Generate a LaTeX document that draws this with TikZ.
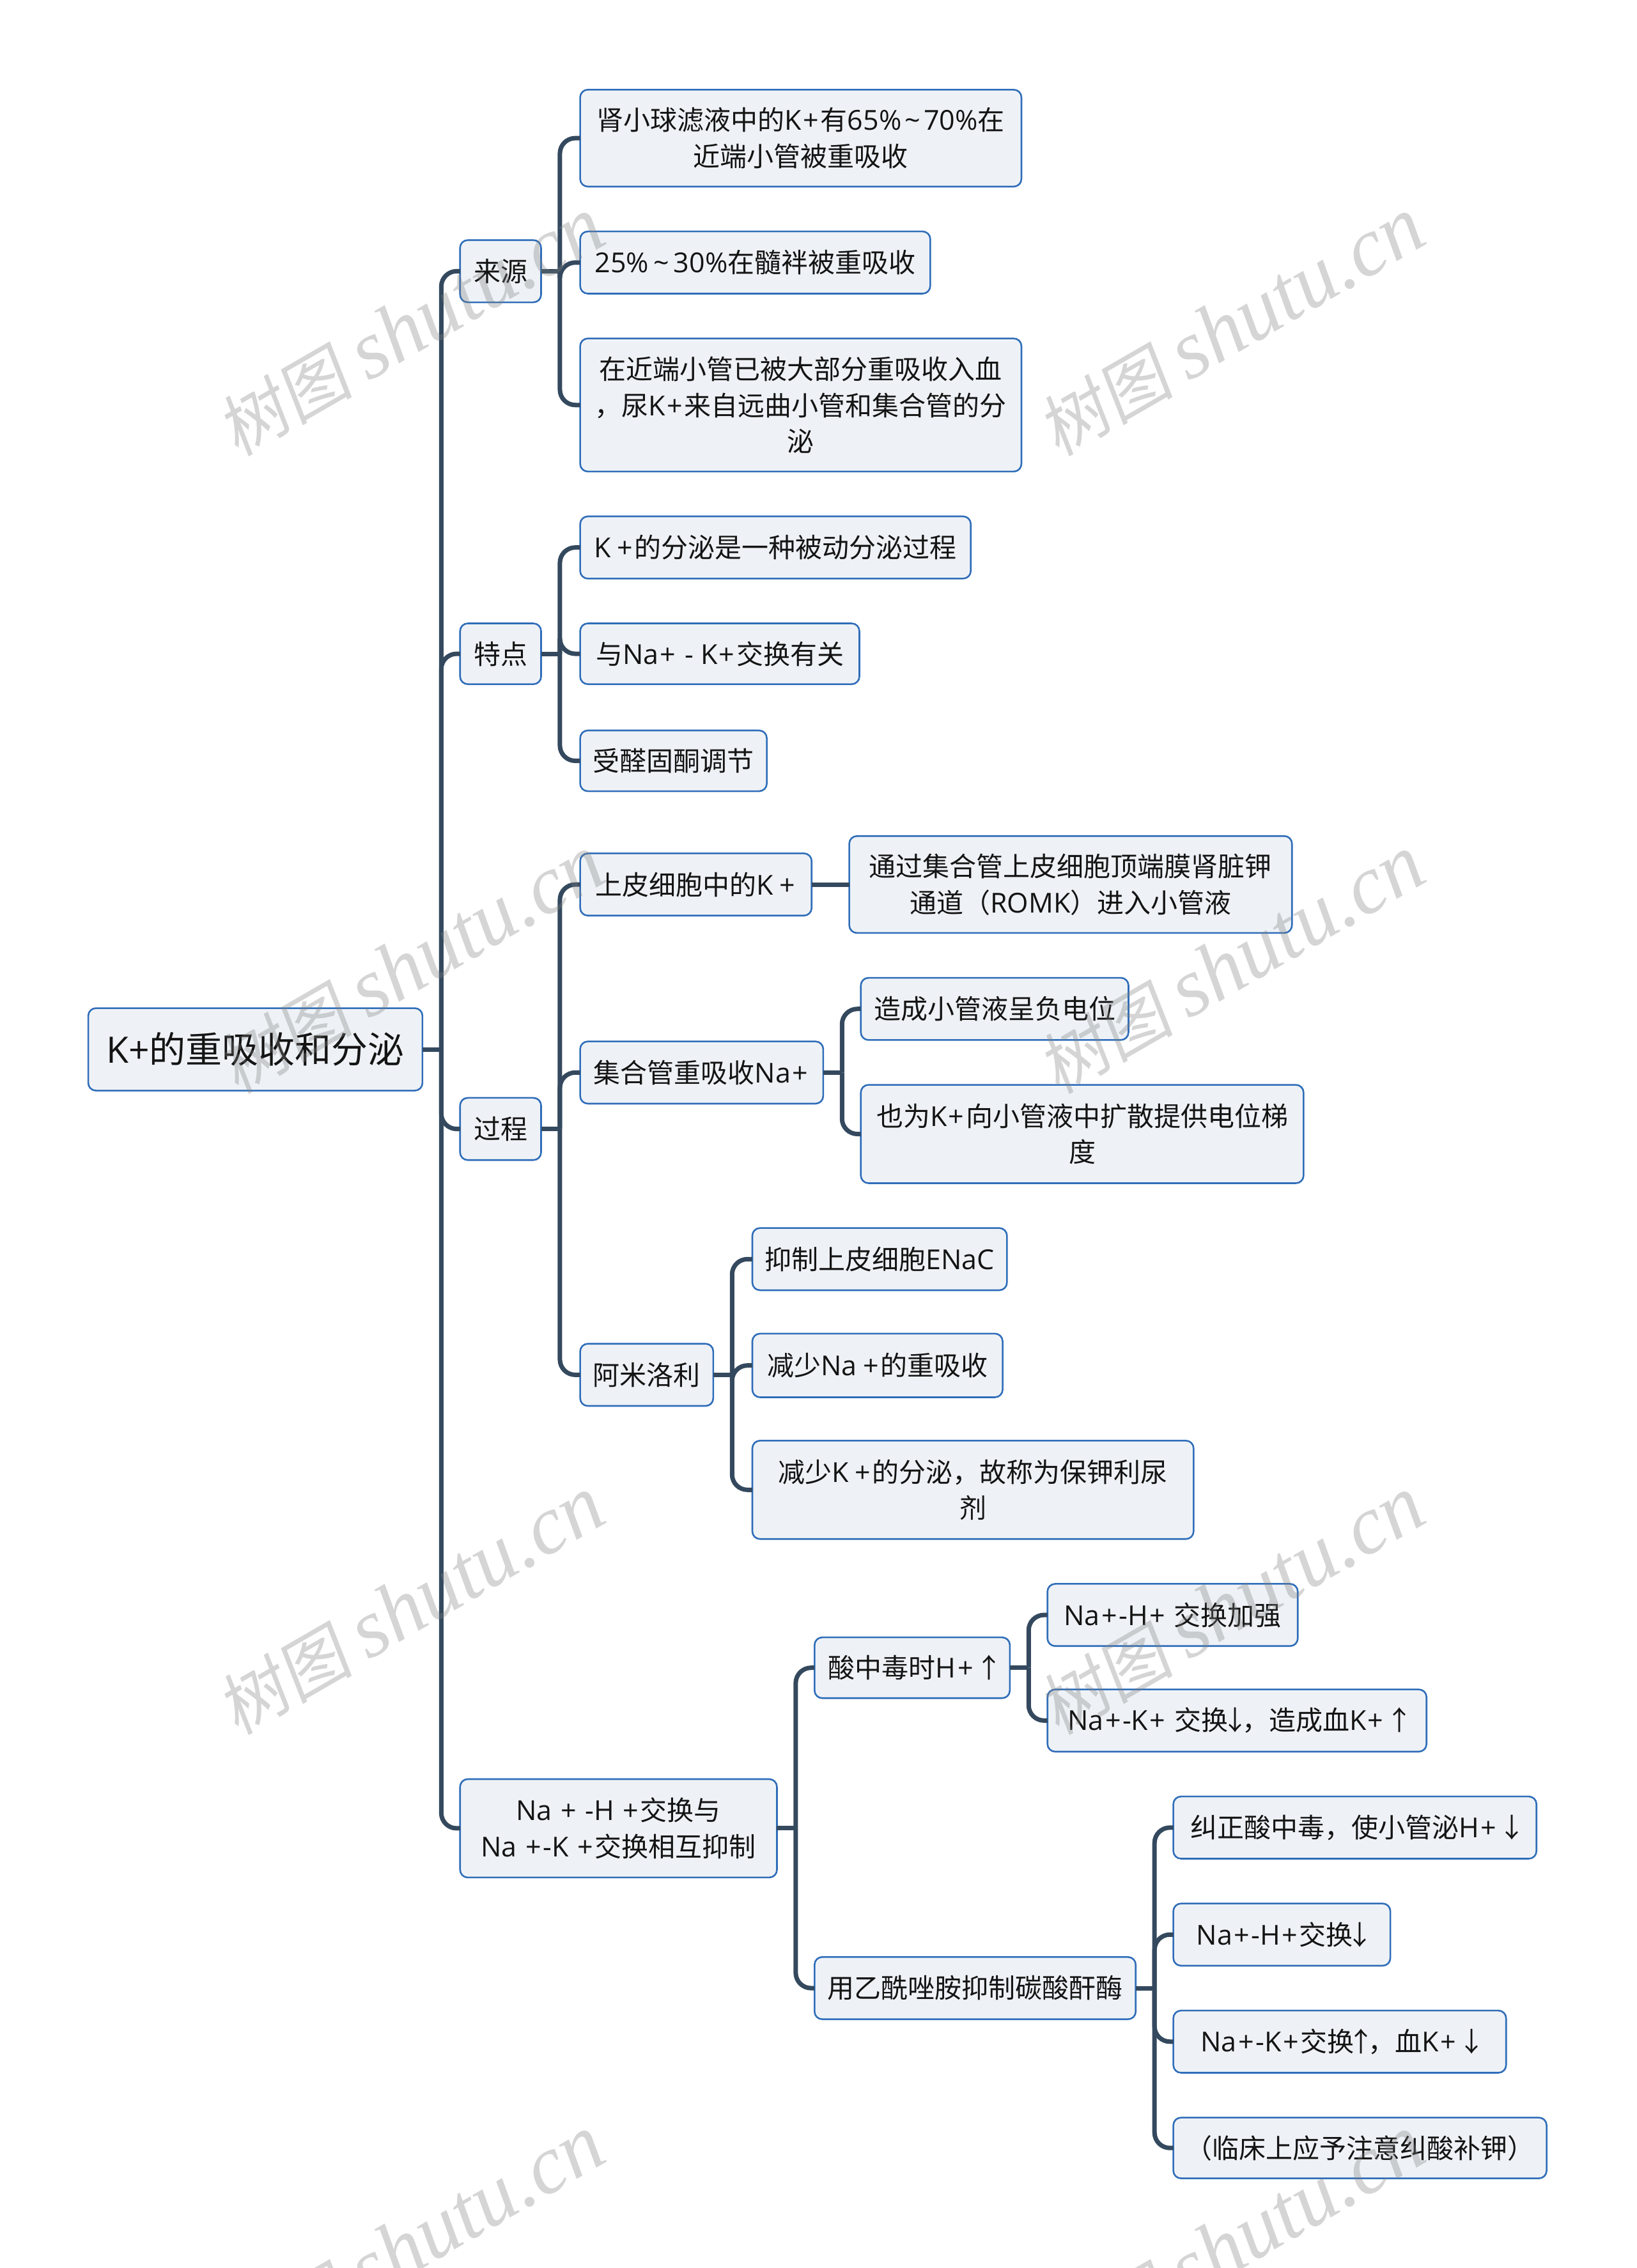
\documentclass[tikz,border=0pt]{standalone}
\usepackage{fontspec}
\setmainfont{Open Sans}
\newfontfamily\cjk{Noto Sans CJK SC}
\newfontfamily\wmcjk[FakeSlant=0.15]{Noto Sans CJK SC}
\newfontfamily\wmlat{Liberation Serif}[ItalicFont=* Italic]
\newcommand{\C}[1]{{\cjk\fontsize{42}{56.5}\selectfont #1}}
\newcommand{\pl}{\kern2.5pt+\kern2.5pt}
\newcommand{\ua}{\makebox[22pt]{\C{↑}}}
\newcommand{\da}{\makebox[22pt]{\C{↓}}}
\definecolor{boxfill}{HTML}{EEF2F6}
\definecolor{boxline}{HTML}{2F6DB9}
\definecolor{connline}{HTML}{34495E}
\definecolor{wmgray}{HTML}{808080}
\tikzset{
  every node/.style={inner sep=0pt,outer sep=0pt},
  box/.style={draw=boxline,fill=boxfill,line width=2.6pt,rounded corners=12pt,align=center,text=black!92,font=\fontsize{43}{56.5}\selectfont},
  rootbox/.style={box,font=\fontsize{57}{70}\selectfont},
  conn/.style={draw=connline,line width=7pt,rounded corners=24pt},
  stub/.style={draw=connline,line width=7pt},
  wm/.style={text=wmgray,opacity=0.33,rotate=30}
}
\newcommand{\bx}[7][box]{\node[#1,minimum width={(#5-#3)*2.2634pt},minimum height={(#6-#4)*2.2634pt}] (#2) at ({(#3+#5)/2},{(#4+#6)/2}) {#7};}
\newcommand{\wmk}[3]{\node[wm] (#1) at (#2,#3) {{\fontsize{106}{106}\selectfont\wmcjk 树图}\hspace{24pt}{\fontsize{130}{130}\selectfont\wmlat\itshape shutu.cn}};}
% parent, horizontal offset of the trunk, list of children
\newcommand{\link}[3]{\draw[stub] (#1.east) -- ++(#2,0) coordinate (t#1);
  \foreach \k in {#3} {\draw[conn] (t#1) |- (\k.west);}}
\begin{document}
\begin{tikzpicture}[x=2.2634pt,y=-2.2634pt]
\useasboundingbox (0,0) rectangle (1131.05,1568);
\clip (0,0) rectangle (1131.05,1568);
\bx[rootbox]{root}{61}{697}{292}{754}{K+{\cjk 的重吸收和分泌}}
\bx{ly}{318}{166}{374}{209}{\C{来源}}
\bx{aa}{401}{62}{706}{129}{\C{肾小球滤液中的}K\pl\C{有}65\%\kern5pt\textasciitilde\kern5pt70\%\C{在}\\\C{近端小管被重吸收}}
\bx{ab}{401}{160}{643}{203}{25\%\,\textasciitilde\,30\%\C{在髓袢被重吸收}}
\bx{ac}{401}{234}{706}{326}{\C{在近端小管已被大部分重吸收入血}\\\C{，尿}K\pl\C{来自远曲小管和集合管的分}\\\C{泌}}
\bx{td}{318}{431}{374}{473}{\C{特点}}
\bx{ba}{401}{357}{671}{400}{K\,\pl\C{的分泌是一种被动分泌过程}}
\bx{bb}{401}{431}{594}{473}{\C{与}Na\pl\ - K\pl\C{交换有关}}
\bx{bc}{401}{505}{530}{547}{\C{受醛固酮调节}}
\bx{gc}{318}{759}{374}{802}{\C{过程}}
\bx{ca}{401}{590}{561}{633}{\C{上皮细胞中的}K\,\pl}
\bx{caa}{587}{578}{893}{645}{\C{通过集合管上皮细胞顶端膜肾脏钾}\\\C{通道（}ROMK\C{）进入小管液}}
\bx{cb}{401}{720}{569}{763}{\C{集合管重吸收}Na\pl}
\bx{cba}{595}{676}{780}{719}{\C{造成小管液呈负电位}}
\bx{cbb}{595}{750}{901}{818}{\C{也为}K\pl\C{向小管液中扩散提供电位梯}\\\C{度}}
\bx{cc}{401}{929}{493}{972}{\C{阿米洛利}}
\bx{cca}{520}{849}{696}{892}{\C{抑制上皮细胞}ENaC}
\bx{ccb}{520}{922}{693}{966}{\C{减少}Na\,\pl\C{的重吸收}}
\bx{ccc}{520}{996}{825}{1064}{\C{减少}K\,\pl\C{的分泌，故称为保钾利尿}\\\C{剂}}
\bx{na}{318}{1230}{537}{1298}{Na \pl\ -H \pl\C{交换与}\\Na \pl-K \pl\C{交换相互抑制}}
\bx{da}{563}{1132}{698}{1174}{\C{酸中毒时}H\pl\ \ua}
\bx{daa}{724}{1095}{897}{1138}{Na\pl-H\pl\ \C{交换加强}}
\bx{dab}{724}{1168}{986}{1211}{Na\pl-K\pl\ \C{交换}\da\C{，造成血}K\pl\ \ua}
\bx{db}{563}{1353}{785}{1396}{\C{用乙酰唑胺抑制碳酸酐酶}}
\bx{dba}{811}{1242}{1062}{1285}{\C{纠正酸中毒，使小管泌}H\pl\ \da}
\bx{dbb}{811}{1316}{961}{1359}{Na\pl-H\pl\C{交换}\da}
\bx{dbc}{811}{1390}{1041}{1433}{Na\pl-K\pl\C{交换}\ua\C{，血}K\pl\ \da}
\bx{dbd}{811}{1464}{1069}{1506}{\C{（临床上应予注意纠酸补钾）}}
\link{root}{13}{ly,td,gc,na}
\link{ly}{13}{aa,ab,ac}
\link{td}{13}{ba,bb,bc}
\link{gc}{13}{ca,cb,cc}
\draw[stub] (ca.east) -- (caa.west);
\link{cb}{13}{cba,cbb}
\link{cc}{13}{cca,ccb,ccc}
\link{na}{13}{da,db}
\link{da}{13}{daa,dab}
\link{db}{13}{dba,dbb,dbc,dbd}
\wmk{w1}{284}{226}
\wmk{w2}{851}{226}
\wmk{w3}{284}{667}
\wmk{w4}{851}{667}
\wmk{w5}{284}{1110}
\wmk{w6}{851}{1110}
\wmk{w7}{284}{1552}
\wmk{w8}{851}{1552}
\end{tikzpicture}
\end{document}
